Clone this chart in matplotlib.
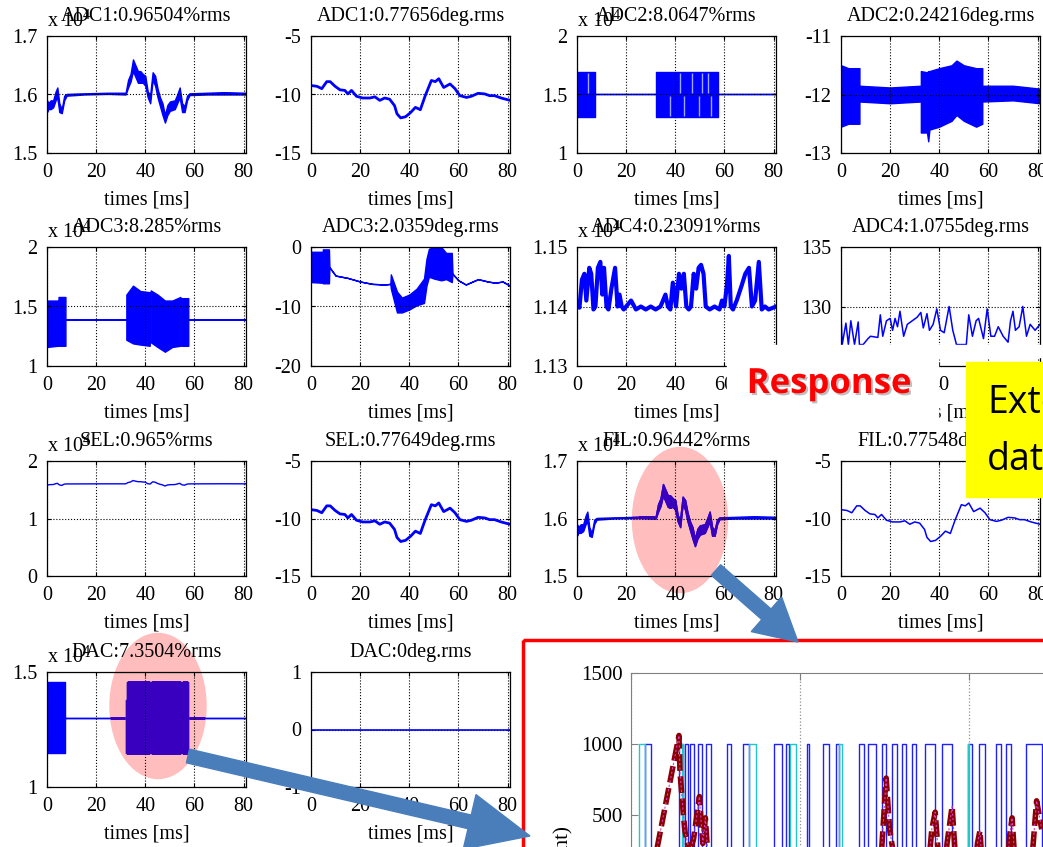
import matplotlib.pyplot as plt
import matplotlib.patheffects as pe
from matplotlib.patches import Ellipse, Rectangle, FancyArrow

plt.rcParams['font.family'] = 'Liberation Serif'
plt.rcParams['mathtext.fontset'] = 'custom'
plt.rcParams['mathtext.rm'] = 'Liberation Serif'
plt.rcParams['axes.unicode_minus'] = False

# ---------------- data (time in ms) ----------------
# ADC1 amplitude (x 10^4), upper / lower edge of the noisy trace
# (SEL and FIL amplitude look the same)
t_amp = [0, 0.5, 1.5, 2.5, 3.5, 4.2, 5, 6, 7, 8, 15, 25, 32, 33, 34, 35, 36, 37, 38, 39,
         40, 41, 42, 43, 44, 45, 46, 47, 48, 49, 50, 52, 53, 54, 55, 56, 57, 58, 65, 72, 81]
amp_hi = [1.59, 1.585, 1.59, 1.59, 1.605, 1.612, 1.585, 1.575, 1.598, 1.601, 1.602, 1.603, 1.603,
          1.625, 1.635, 1.66, 1.65, 1.64, 1.64, 1.635, 1.632, 1.605, 1.6, 1.638, 1.632, 1.61,
          1.595, 1.585, 1.565, 1.582, 1.588, 1.59, 1.6, 1.612, 1.585, 1.58, 1.598, 1.602, 1.603,
          1.604, 1.603]
amp_lo = [1.57, 1.575, 1.575, 1.578, 1.59, 1.595, 1.57, 1.568, 1.59, 1.598, 1.6, 1.601, 1.6,
          1.612, 1.622, 1.64, 1.63, 1.62, 1.62, 1.62, 1.615, 1.595, 1.585, 1.625, 1.615, 1.595,
          1.58, 1.565, 1.552, 1.565, 1.572, 1.575, 1.585, 1.595, 1.57, 1.57, 1.59, 1.599, 1.6,
          1.6, 1.6]

# ADC1 phase in deg (SEL / FIL phase read the same)
t_deg = [0, 2.4, 4.4, 6.4, 7.8, 9.8, 11.8, 13.8, 15, 16.5, 18.5, 21, 24, 26, 28, 30, 32, 34,
         35, 36.5, 38.5, 40.5, 42.5, 44.5, 46.5, 49, 50.6, 52, 54, 56.6, 58.6, 60.6, 63.3,
         65.3, 68, 70.7, 72.7, 74.7, 77.4, 81]
deg = [-9.23, -9.3, -9.5, -8.9, -8.9, -9.3, -9.6, -9.65, -9.95, -9.65, -10.15, -10.3, -10.3,
       -10.2, -10.5, -10.3, -10.4, -10.95, -11.65, -12.0, -11.9, -11.55, -11.1, -11.3, -10.1,
       -8.8, -8.9, -8.65, -9.4, -9.1, -9.5, -10.1, -10.25, -10.15, -9.9, -9.95, -10.1, -10.1,
       -10.3, -10.5]

# ADC2 amplitude (x 10^4)
t_adc2 = [0, 7.5, 7.5, 32.3, 32.3, 57.5, 57.5, 81]
adc2_hi = [1.69, 1.69, 1.5, 1.5, 1.69, 1.69, 1.5, 1.5]
adc2_lo = [1.31, 1.31, 1.5, 1.5, 1.31, 1.31, 1.5, 1.5]
adc2_gaps_top = [4.4, 42.0, 47.0, 50.8, 53.2]
adc2_gaps_bot = [38.0, 43.5, 49.5, 54.5]

# ADC2 phase (deg)
t_adc2d = [0, 3, 7.5, 7.5, 20, 32.5, 32.5, 35, 35.5, 36, 40, 45, 47, 50, 55, 57.5, 57.5, 70, 81]
adc2d_hi = [-11.5, -11.55, -11.55, -11.85, -11.88, -11.85, -11.6, -11.62, -11.6, -11.6, -11.55,
            -11.5, -11.42, -11.5, -11.55, -11.55, -11.85, -11.85, -11.9]
adc2d_lo = [-12.55, -12.5, -12.5, -12.12, -12.15, -12.12, -12.65, -12.65, -12.8, -12.6, -12.55,
            -12.45, -12.35, -12.45, -12.55, -12.5, -12.12, -12.1, -12.15]

# ADC3 amplitude (x 10^4)
t_adc3 = [0, 4.3, 4.3, 4.7, 4.7, 7.5, 7.5, 32.3, 32.3, 35, 38, 41.8, 41.8, 42.2, 42.2, 45, 48,
          51, 54.3, 54.3, 54.8, 54.8, 57.5, 57.5, 81]
adc3_hi = [1.55, 1.55, 1.39, 1.39, 1.58, 1.58, 1.39, 1.39, 1.6, 1.675, 1.63, 1.62, 1.39, 1.39,
           1.635, 1.6, 1.55, 1.55, 1.58, 1.39, 1.39, 1.57, 1.57, 1.39, 1.39]
adc3_lo = [1.16, 1.17, 1.39, 1.39, 1.17, 1.17, 1.39, 1.39, 1.22, 1.19, 1.18, 1.17, 1.39, 1.39,
           1.2, 1.16, 1.12, 1.16, 1.17, 1.39, 1.39, 1.17, 1.17, 1.39, 1.39]

# ADC3 phase (deg)
t_adc3d = [0, 4.3, 4.3, 4.8, 4.8, 7.3, 7.5, 10, 15, 20, 25, 30, 32.3, 32.5, 35, 37, 40, 43, 46,
           47, 48, 50, 53, 55, 57.3, 57.6, 60, 63, 68, 72, 75, 78, 81]
adc3d_hi = [-0.8, -0.8, -4.5, -4.5, -0.4, -0.4, -3.4, -4.8, -5.2, -5.8, -6.2, -6.3, -6.2, -4.6,
            -7.5, -8.5, -8.0, -7.0, -5.3, -2.0, -0.3, 0, 0, -1.0, -1.0, -4.5, -5.6, -6.3, -5.4,
            -5.8, -6.0, -5.8, -6.5]
adc3d_lo = [-5.9, -6.0, -4.5, -4.5, -6.1, -6.1, -3.4, -4.8, -5.2, -5.8, -6.2, -6.3, -6.2, -7.0,
            -11.0, -11.0, -10.5, -9.8, -9.4, -6.5, -5.0, -5.3, -5.6, -5.4, -5.9, -4.5, -5.6,
            -6.3, -5.4, -5.8, -6.0, -5.8, -6.5]

# ADC4 amplitude (x 10^4)
t_adc4 = [0, 1, 2, 3, 3.8, 5, 5.8, 6.7, 7.5, 8.5, 9.5, 10.3, 11, 12, 12.8, 14, 15.5, 16.5, 17.3,
          18.2, 19, 20, 22, 24, 26, 28, 30, 32, 34, 36, 37, 38, 39, 40.3, 41.5, 42.5, 43.5,
          44.5, 45.5, 46.4, 47.5, 48.5, 49.5, 50.5, 51.5, 52.4, 54, 56, 58, 59, 60, 61, 61.8,
          62.6, 63.5, 65, 67, 68.5, 70, 71.2, 72.5, 74, 75.2, 76.5, 78, 81]
adc4 = [1.1405, 1.1398, 1.1445, 1.1455, 1.141, 1.1465, 1.1455, 1.1395, 1.1400, 1.1465, 1.1475,
        1.142, 1.1465, 1.1400, 1.1395, 1.143, 1.1465, 1.1400, 1.142, 1.1400, 1.1395, 1.1400,
        1.141, 1.1395, 1.1400, 1.1395, 1.1400, 1.1395, 1.1400, 1.142, 1.1400, 1.1395, 1.1440,
        1.1400, 1.1455, 1.1430, 1.1455, 1.1400, 1.1395, 1.1400, 1.1455, 1.1430, 1.1465, 1.1470,
        1.1455, 1.1400, 1.1395, 1.1400, 1.1395, 1.141, 1.1400, 1.1435, 1.1485, 1.1400, 1.1395,
        1.141, 1.1435, 1.1455, 1.1465, 1.1400, 1.141, 1.1475, 1.1395, 1.1400, 1.1395, 1.1400]

# ADC4 phase (deg), bottom of the trace is hidden on the slide
t_adc4d = [0, 0.5, 2, 3, 4, 5.5, 7, 7.5, 9, 11, 12, 15, 16, 17, 18.5, 20, 21, 22, 23, 24, 25.5,
           27, 29, 31, 32.5, 33.5, 35, 36, 37.5, 39, 40.5, 42, 44, 45.5, 47, 51, 52, 53.5, 55,
           56, 58, 59.5, 61, 62.5, 64, 66, 68, 69, 70, 71, 72.5, 74, 75.5, 77, 79, 81]
adc4d = [129.3, 126.8, 128.6, 126.8, 128.8, 126.8, 128.7, 126.8, 126.8, 127.3, 127.5, 127.4,
         129.3, 127.5, 128.8, 129.0, 128.0, 129.0, 128.3, 129.6, 127.5, 128.5, 128.8, 129.1,
         129.5, 128.2, 129.4, 128.0, 128.5, 129.8, 128.0, 127.8, 130.0, 128.0, 126.8, 126.8,
         129.3, 127.5, 128.8, 129.0, 127.3, 129.8, 127.5, 127.5, 128.3, 127.5, 127.0, 128.8,
         129.6, 128.0, 128.3, 130.0, 127.5, 128.5, 128.0, 128.5]

# DAC amplitude (x 10^4)
t_dac = [0, 7.5, 7.5, 32.0, 32.0, 32.5, 32.5, 41.9, 41.9, 42.2, 42.2, 54.5, 54.5, 54.8, 54.8,
         57.5, 57.5, 81]
dac_hi = [1.457, 1.457, 1.30, 1.30, 1.38, 1.38, 1.457, 1.457, 1.30, 1.30, 1.457, 1.457, 1.30,
          1.30, 1.457, 1.457, 1.30, 1.30]
dac_lo = [1.148, 1.148, 1.30, 1.30, 1.148, 1.148, 1.148, 1.148, 1.30, 1.30, 1.148, 1.148, 1.30,
          1.30, 1.148, 1.148, 1.30, 1.30]

# DAC phase (deg)
t_dacd = [0, 81]
dacd = [0, 0]

# zoomed response plot (bottom right)
blue_on = [0.083, 0.284, 0.32, 0.349, 0.396, 0.446, 0.57, 0.663, 0.846, 0.915, 1.04, 1.138,
           1.211, 1.349, 1.404, 1.487, 1.546, 1.605, 1.665, 1.74, 1.838, 1.996, 2.059, 2.158,
           2.217, 2.336]
blue_off = [0.117, 0.31, 0.337, 0.373, 0.418, 0.471, 0.594, 0.698, 0.895, 0.935, 1.053, 1.172,
            1.231, 1.379, 1.448, 1.507, 1.576, 1.625, 1.684, 1.799, 1.901, 2.02, 2.095, 2.188,
            2.247, 2.43]
cyan_on = [0.05, 0.30, 0.70, 0.94, 1.23, 1.995]
cyan_off = [0.083, 0.31, 0.74, 0.975, 1.25, 2.0]
resp_x = [0.12, 0.156, 0.284, 0.29, 0.30, 0.31, 0.32, 0.335, 0.35, 0.37, 0.39, 0.405, 0.415,
          0.425, 0.44, 0.45, 0.46, 0.48, 1.45, 1.48, 1.51, 1.53, 1.55, 1.57, 1.75, 1.78, 1.80,
          1.82, 1.85, 1.87, 1.90, 1.92, 1.95, 2.03, 2.05, 2.065, 2.08, 2.1, 2.22, 2.24, 2.255,
          2.27, 2.3, 2.36, 2.40, 2.43]
resp_y = [0, 276, 1060, 800, 650, 500, 380, 300, 250, 330, 500, 630, 450, 300, 480, 300, 150,
          0, 0, 200, 760, 400, 250, 0, 0, 400, 520, 200, 0, 300, 560, 200, 0, 0, 300, 390,
          100, 0, 0, 350, 480, 200, 0, 0, 600, 400]

# ---------------- layout (pixels of the 1043x847 slide) ----------------
W, H = 1043, 847
fig = plt.figure(figsize=(W / 100, H / 100), dpi=100)

col_x = [47, 311, 577, 841]
row_y = [(36, 153), (247, 366), (461, 576), (672, 787)]
AW = 199
FS = 14.5
BLUE = '#0000ff'

# background layer for the pink highlight ellipses
bg = fig.add_axes([0, 0, 1, 1], zorder=-1)
bg.set_xlim(0, W)
bg.set_ylim(H, 0)
bg.axis('off')
ell1 = dict(xy=(680, 520), width=95, height=145)
ell2 = dict(xy=(158, 706), width=96, height=145)
bg.add_patch(Ellipse(**ell1, color='#ffbdbd'))
bg.add_patch(Ellipse(**ell2, color='#ffbdbd'))


def panel(r, c, title, ylim, yticks, ylabels=None, x10=False):
    top, bot = row_y[r]
    ax = fig.add_axes([col_x[c] / W, 1 - bot / H, AW / W, (bot - top) / H])
    ax.set_facecolor('none')
    ax.set_xlim(0, 81)
    ax.set_ylim(*ylim)
    ax.set_xticks([0, 20, 40, 60, 80])
    ax.set_yticks(yticks)
    if ylabels:
        ax.set_yticklabels(ylabels)
    ax.grid(True, ls=':', color='k', lw=0.8)
    ax.tick_params(direction='in', top=True, right=True, labelsize=FS, length=3, pad=7)
    for s in ax.spines.values():
        s.set_linewidth(0.9)
    ax.set_xlabel('times [ms]', fontsize=FS, labelpad=6)
    ax.set_title(title, fontsize=FS, pad=11)
    if x10:
        fig.text(col_x[c] / W, 1 - 27 / H - (top - 36) / H, r'x 10$^4$', fontsize=FS,
                 va='baseline', ha='left')
    return ax


def band(ax, t, lo, hi, color=BLUE, clip=None):
    coll = ax.fill_between(t, lo, hi, color=color, lw=1)
    if clip is not None:
        coll.set_clip_path(Ellipse(**clip, transform=bg.transData))
    return coll


# row 1
ax = panel(0, 0, 'ADC1:0.96504%rms', (1.5, 1.7), [1.5, 1.6, 1.7], x10=True)
band(ax, t_amp, amp_lo, amp_hi)
ax = panel(0, 1, 'ADC1:0.77656deg.rms', (-15, -5), [-15, -10, -5])
ax.plot(t_deg, deg, color=BLUE, lw=2)
ax = panel(0, 2, 'ADC2:8.0647%rms', (1, 2), [1, 1.5, 2], ['1', '1.5', '2'], x10=True)
band(ax, t_adc2, adc2_lo, adc2_hi)
ax.vlines(adc2_gaps_top, 1.51, 1.68, color='#9fa8ff', lw=1)
ax.vlines(adc2_gaps_bot, 1.32, 1.49, color='#9fa8ff', lw=1)
ax = panel(0, 3, 'ADC2:0.24216deg.rms', (-13, -11), [-13, -12, -11])
band(ax, t_adc2d, adc2d_lo, adc2d_hi)

# row 2
ax = panel(1, 0, 'ADC3:8.285%rms', (1, 2), [1, 1.5, 2], ['1', '1.5', '2'], x10=True)
band(ax, t_adc3, adc3_lo, adc3_hi)
ax = panel(1, 1, 'ADC3:2.0359deg.rms', (-20, 0), [-20, -10, 0])
band(ax, t_adc3d, adc3d_lo, adc3d_hi)
ax = panel(1, 2, 'ADC4:0.23091%rms', (1.13, 1.15), [1.13, 1.14, 1.15], x10=True)
ax.plot(t_adc4, adc4, color=BLUE, lw=3)
ax = panel(1, 3, 'ADC4:1.0755deg.rms', (125, 135), [125, 130, 135])
ax.plot(t_adc4d, adc4d, color=BLUE, lw=1.1)

# row 3
ax = panel(2, 0, 'SEL:0.965%rms', (0, 2), [0, 1, 2], x10=True)
ax.plot(t_amp, amp_hi, color=BLUE, lw=1)
ax = panel(2, 1, 'SEL:0.77649deg.rms', (-15, -5), [-15, -10, -5])
ax.plot(t_deg, deg, color=BLUE, lw=2)
ax = panel(2, 2, 'FIL:0.96442%rms', (1.5, 1.7), [1.5, 1.6, 1.7], x10=True)
band(ax, t_amp, amp_lo, amp_hi)
band(ax, t_amp, amp_lo, amp_hi, color='#3a00c0', clip=ell1)
ax = panel(2, 3, 'FIL:0.77548deg.rms', (-15, -5), [-15, -10, -5])
ax.plot(t_deg, deg, color=BLUE, lw=1.1)

# row 4
ax = panel(3, 0, 'DAC:7.3504%rms', (1, 1.5), [1, 1.5], ['1', '1.5'], x10=True)
band(ax, t_dac, dac_lo, dac_hi)
band(ax, t_dac, dac_lo, dac_hi, color='#3a00c0', clip=ell2)
ax = panel(3, 1, 'DAC:0deg.rms', (-1, 1), [-1, 0, 1])
ax.plot(t_dacd, dacd, color=BLUE, lw=1.2)

# zoomed response inset inside the red frame
ax_in = fig.add_axes([631 / W, 1 - 886 / H, 507 / W, 213 / H], zorder=5)
ax_in.set_xlim(0, 3)
ax_in.set_ylim(0, 1500)
ax_in.set_xticks([0, 1, 2, 3])
ax_in.set_xticklabels([])
ax_in.set_yticks([0, 500, 1000, 1500])
ax_in.grid(True, axis='x', ls=':', color='#909090', lw=0.9)
ax_in.tick_params(direction='in', top=True, right=True, labelsize=15, length=5,
                  color='#808080', pad=6)
for s in ax_in.spines.values():
    s.set_color('#808080')


def square(on, off):
    xs, ys = [0], [0]
    for a, b in zip(on, off):
        xs += [a, a, b, b]
        ys += [0, 1000, 1000, 0]
    return xs + [3], ys + [0]


sx, sy = square(blue_on, blue_off)
ax_in.plot(sx, sy, color='#2020ff', lw=1)
cx, cy = square(cyan_on, cyan_off)
ax_in.plot(cx, cy, color='#20c8c8', lw=1)
ax_in.plot(resp_x, resp_y, color='#8b0000', lw=4, dashes=(3, 1))
ax_in.plot(resp_x, resp_y, color='#d040d0', lw=0.8, dashes=(2, 2))

# foreground annotations of the slide
fg = fig.add_axes([0, 0, 1, 1], zorder=10)
fg.set_xlim(0, W)
fg.set_ylim(H, 0)
fg.axis('off')

fg.add_patch(Rectangle((727, 345), 211, 80, color='white'))
fg.add_patch(Rectangle((938, 345), 105, 12, color='white'))
fg.text(829, 384, 'Response', color='red', fontsize=25, fontweight='bold',
        family='Open Sans', ha='center', va='center',
        path_effects=[pe.SimplePatchShadow(offset=(1.5, -1.5), shadow_rgbFace='#808080',
                                           alpha=0.5), pe.Normal()])

fg.add_patch(Rectangle((966, 362), 100, 135, color='#ffff00'))
fg.text(987, 413, 'External', fontsize=27, family='Open Sans', va='baseline', ha='left')
fg.text(987, 470, 'data', fontsize=27, family='Open Sans', va='baseline', ha='left')

fg.add_patch(Rectangle((523, 640), 600, 300, fill=False, edgecolor='#ff0000', lw=2.5))
fg.text(563, 826, 'Amplitude (count)', rotation=90, fontsize=15, ha='center', va='top')

arrow_c = '#4a7ebb'
fg.add_patch(FancyArrow(716, 570, 82, 72, width=14, head_width=46, head_length=42,
                        length_includes_head=True, color=arrow_c))
fg.add_patch(FancyArrow(188, 756, 342, 80, width=14, head_width=56, head_length=62,
                        length_includes_head=True, color=arrow_c))

fig.savefig('out.png', dpi=100)
